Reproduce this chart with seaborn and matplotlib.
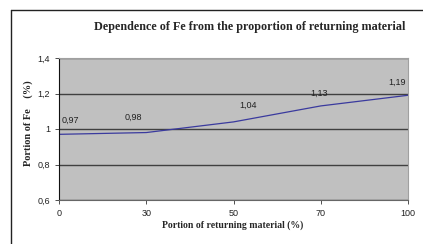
import pandas as pd
import numpy as np
import seaborn as sns
import matplotlib.pyplot as plt
from matplotlib.lines import Line2D

returning = ['0', '30', '50', '70', '100']
fe = [0.97, 0.98, 1.04, 1.13, 1.19]
fe_labels = ['0,97', '0,98', '1,04', '1,13', '1,19']
y_ticks = [0.6, 0.8, 1.0, 1.2, 1.4]
y_ticklabels = ['0,6', '0,8', '1', '1,2', '1,4']

sns.set_style('white')
plt.rcParams['font.family'] = ['Liberation Sans', 'DejaVu Sans']

df = pd.DataFrame({'pos': np.arange(len(returning)), 'fe': fe})

fig = plt.figure(figsize=(4.23, 2.44), dpi=100)
ax = fig.add_axes([59/423, 1-200/244, 349/423, 142/244])
ax.set_facecolor('#c0c0c0')

sns.lineplot(data=df, x='pos', y='fe', ax=ax, color='#3a3a9e', linewidth=0.9)

ax.set_xlim(0, len(returning) - 1)
ax.set_ylim(0.6, 1.4)
ax.set_xticks(df['pos'])
ax.set_xticklabels(returning)
ax.set_yticks(y_ticks)
ax.set_yticklabels(y_ticklabels)
ax.tick_params(axis='both', labelsize=6.5, colors='#333333', length=3, direction='out',
               bottom=True, left=True, width=0.6)
for t in ax.get_xticklabels() + ax.get_yticklabels():
    t.set_color('#222222')
ax.yaxis.grid(True, color='#404040', linewidth=1.0)
ax.set_axisbelow(True)
for s in ['top', 'right']:
    ax.spines[s].set_color('#a0a0a0')
    ax.spines[s].set_linewidth(0.8)
ax.spines['bottom'].set_color('#666666')
ax.spines['left'].set_color('#111111')
ax.spines['left'].set_linewidth(0.8)

offsets = [(11, 14), (-13, 15), (15, 17), (-2, 13), (-11, 13)]
for x, y, lab, off in zip(df['pos'], fe, fe_labels, offsets):
    ax.annotate(lab, (x, y), xytext=off, textcoords='offset pixels',
                ha='center', va='center', fontsize=6.5, color='#222222')

ax.set_xlabel('Portion of returning material (%)', family=['Liberation Serif'],
              fontweight='bold', fontsize=7)
ax.xaxis.set_label_coords(174/349, -20/142)
ax.set_ylabel('Portion of Fe    (%)', family=['Liberation Serif'],
              fontweight='bold', fontsize=7.5)
ax.yaxis.set_label_coords(-26/349, 77/142)
ax.set_title('Dependence of Fe from the proportion of returning material',
             family=['Liberation Serif'], fontweight='bold', fontsize=8.7,
             x=191/349, y=1 + 31/142, va='center', pad=0)

fig.add_artist(Line2D([11/423, 11/423], [0, 1-10/244], transform=fig.transFigure,
                      color='#222222', linewidth=1.0))
fig.add_artist(Line2D([11/423, 1], [1-10/244, 1-10/244], transform=fig.transFigure,
                      color='#222222', linewidth=1.0))

fig.savefig('out.png', dpi=100)
